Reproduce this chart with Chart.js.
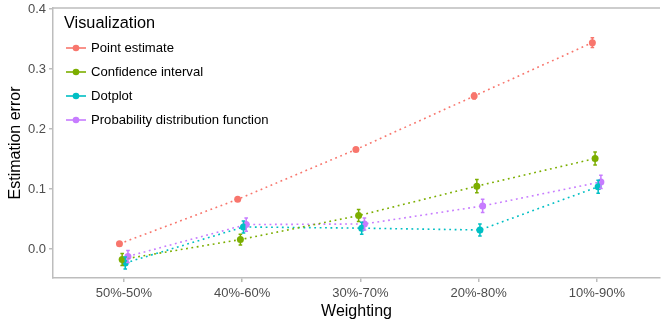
<!DOCTYPE html>
<html>
<head>
<meta charset="utf-8">
<script src="https://cdn.jsdelivr.net/npm/chart.js@4/dist/chart.umd.min.js"></script>
<style>
  html, body { margin: 0; padding: 0; background: #ffffff; }
  #wrap { width: 664px; height: 324px; }
</style>
</head>
<body>
<div id="wrap"><canvas id="chart" width="664" height="324"></canvas></div>
<script>
// Weighting conditions along the x axis
const categories = ['50%-50%', '40%-60%', '30%-70%', '20%-80%', '10%-90%'];
const yTickValues = [0.0, 0.1, 0.2, 0.3, 0.4];
const yTickLabels = ['0.0', '0.1', '0.2', '0.3', '0.4'];

// Mean estimation error per visualization
const seriesNames = ['Point estimate', 'Confidence interval', 'Dotplot', 'Probability distribution function'];
const pointEstimate = [0.009, 0.083, 0.166, 0.255, 0.344];
const confidenceInterval = [-0.017, 0.016, 0.056, 0.105, 0.151];
const dotplot = [-0.023, 0.037, 0.035, 0.032, 0.104];
const pdfValues = [-0.012, 0.041, 0.042, 0.072, 0.112];

// Half-width of the error bar for each mean
const pointEstimateErr = [0.003, 0.003, 0.003, 0.005, 0.008];
const confidenceIntervalErr = [0.010, 0.009, 0.010, 0.011, 0.011];
const dotplotErr = [0.010, 0.010, 0.010, 0.010, 0.011];
const pdfErr = [0.010, 0.011, 0.010, 0.011, 0.011];

const colors = ['#F8766D', '#7CAE00', '#00BFC4', '#C77CFF'];
const dodge = [-0.038, -0.015, 0.011, 0.034];
const seriesValues = [pointEstimate, confidenceInterval, dotplot, pdfValues];
const seriesErrors = [pointEstimateErr, confidenceIntervalErr, dotplotErr, pdfErr];

const FONT = '"Liberation Sans", Arial, Helvetica, sans-serif';
const AXIS_GREY = '#bdbdbd';

const datasets = seriesValues.map((vals, s) => ({
  label: seriesNames[s],
  data: vals.map((v, i) => ({ x: i + dodge[s], y: v, err: seriesErrors[s][i] })),
  showLine: true,
  borderColor: colors[s],
  backgroundColor: colors[s],
  borderWidth: 1.6,
  borderDash: [1.8, 3.6],
  pointRadius: 3.5,
  pointBorderWidth: 0,
  pointBackgroundColor: colors[s],
  tension: 0
}));

// Vertical error bars with small caps, drawn through the scales
const errorBars = {
  id: 'errorBars',
  afterDatasetsDraw(chart) {
    const { ctx, scales: { x, y } } = chart;
    ctx.save();
    chart.data.datasets.forEach((ds) => {
      ctx.strokeStyle = ds.borderColor;
      ctx.lineWidth = 1.5;
      ds.data.forEach((p) => {
        const px = x.getPixelForValue(p.x);
        const top = y.getPixelForValue(p.y + p.err);
        const bot = y.getPixelForValue(p.y - p.err);
        ctx.beginPath();
        ctx.moveTo(px, top); ctx.lineTo(px, bot);
        ctx.moveTo(px - 1.8, top); ctx.lineTo(px + 1.8, top);
        ctx.moveTo(px - 1.8, bot); ctx.lineTo(px + 1.8, bot);
        ctx.stroke();
      });
    });
    ctx.restore();
  }
};

// Top border of the panel
const panelTop = {
  id: 'panelTop',
  afterDraw(chart) {
    const { ctx, chartArea: a } = chart;
    ctx.save();
    ctx.strokeStyle = AXIS_GREY;
    ctx.lineWidth = 1.5;
    ctx.beginPath();
    ctx.moveTo(a.left, a.top);
    ctx.lineTo(a.right, a.top);
    ctx.stroke();
    ctx.restore();
  }
};

// Legend inside the panel, top-left
const insideLegend = {
  id: 'insideLegend',
  afterDraw(chart) {
    const { ctx } = chart;
    ctx.save();
    ctx.textBaseline = 'middle';
    ctx.textAlign = 'left';
    ctx.fillStyle = '#000000';
    ctx.font = '16.3px ' + FONT;
    ctx.fillText('Visualization', 64, 24);
    ctx.font = '13.1px ' + FONT;
    seriesNames.forEach((name, s) => {
      const cy = 48 + s * 24;
      ctx.strokeStyle = colors[s];
      ctx.lineWidth = 1.6;
      ctx.setLineDash([]);
      ctx.beginPath();
      ctx.moveTo(66, cy); ctx.lineTo(86, cy);
      ctx.stroke();
      ctx.fillStyle = colors[s];
      ctx.beginPath();
      ctx.arc(76, cy, 3.3, 0, Math.PI * 2);
      ctx.fill();
      ctx.fillStyle = '#000000';
      ctx.fillText(name, 91, cy + 0.5);
    });
    ctx.restore();
  }
};

// Fixed axis box sizes, without extra label overhang padding
function fixBox(scale, prop, size) {
  scale[prop] = size;
  scale.paddingTop = 0;
  scale.paddingBottom = 0;
  scale.paddingLeft = 0;
  scale.paddingRight = 0;
}

new Chart(document.getElementById('chart'), {
  type: 'scatter',
  data: { datasets },
  plugins: [errorBars, panelTop, insideLegend],
  options: {
    responsive: false,
    animation: false,
    events: [],
    layout: { padding: { top: 8, left: 0, right: 0, bottom: 0 } },
    plugins: { legend: { display: false }, tooltip: { enabled: false } },
    scales: {
      x: {
        type: 'linear',
        min: -0.6,
        max: 4.534,
        afterFit(scale) { fixBox(scale, 'height', 46); },
        afterBuildTicks(scale) { scale.ticks = categories.map((c, i) => ({ value: i })); },
        ticks: {
          autoSkip: false,
          maxRotation: 0,
          padding: 4,
          color: '#4d4d4d',
          font: { family: FONT, size: 13 },
          callback: (v) => categories[Math.round(v)]
        },
        grid: { drawOnChartArea: false, drawTicks: true, tickLength: 4, color: AXIS_GREY, lineWidth: 1.5 },
        border: { display: true, color: AXIS_GREY, width: 1.5 },
        title: {
          display: true, text: 'Weighting', color: '#000000',
          font: { family: FONT, size: 16 }, padding: { top: 0, bottom: 3 }
        }
      },
      y: {
        min: -0.048,
        max: 0.4017,
        afterFit(scale) { fixBox(scale, 'width', 53); },
        afterBuildTicks(scale) { scale.ticks = yTickValues.map((v) => ({ value: v })); },
        ticks: {
          padding: 3,
          color: '#4d4d4d',
          font: { family: FONT, size: 13 },
          callback: (v) => yTickLabels[yTickValues.findIndex((t) => Math.abs(t - v) < 1e-9)]
        },
        grid: { drawOnChartArea: false, drawTicks: true, tickLength: 4, color: AXIS_GREY, lineWidth: 1.5 },
        border: { display: true, color: AXIS_GREY, width: 1.5 },
        title: {
          display: true, text: 'Estimation error', color: '#000000',
          font: { family: FONT, size: 16 }, padding: { top: 6, bottom: 0 }
        }
      }
    }
  }
});
</script>
</body>
</html>
